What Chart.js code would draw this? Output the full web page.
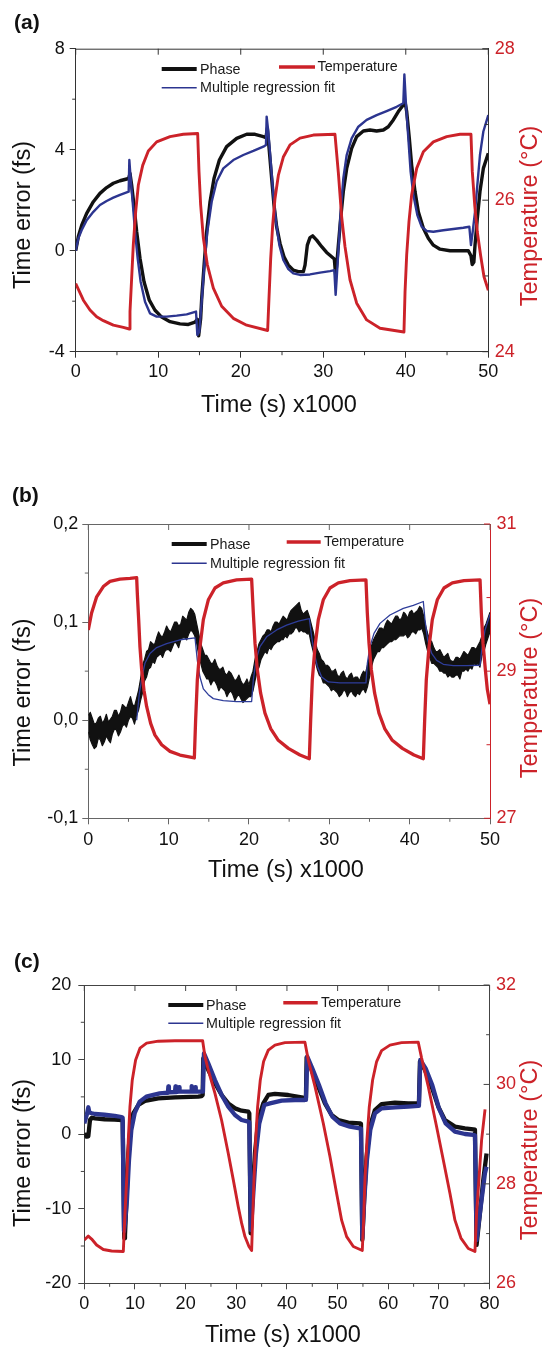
<!DOCTYPE html>
<html><head><meta charset="utf-8">
<script src="https://cdn.jsdelivr.net/npm/chart.js@4.4.1/dist/chart.umd.min.js"></script>
<style>
html,body{margin:0;padding:0;background:#fff;}
body{width:545px;height:1349px;position:relative;overflow:hidden;}
canvas{position:absolute;left:0;}
</style></head><body>
<canvas id="ca" width="545" height="450" style="top:0px"></canvas>
<canvas id="cb" width="545" height="450" style="top:450px"></canvas>
<canvas id="cc" width="545" height="449" style="top:900px"></canvas>
<script>
// ---------------- Panel (a) data ----------------
const aPhase = [[0,0],[0.32,0.56],[0.73,1.01],[1.33,1.48],[2.14,1.94],[2.94,2.27],[3.75,2.5],[4.56,2.67],[5.37,2.77],[6.18,2.84],[6.42,2.86],[6.58,3.06],[6.78,2.6],[7.06,1.81],[7.39,0.75],[7.79,-0.3],[8.28,-1.23],[8.92,-1.96],[9.61,-2.36],[10.42,-2.63],[11.43,-2.81],[12.64,-2.9],[13.65,-2.92],[14.46,-2.83],[14.74,-2.72],[14.9,-3.37],[15.14,-2.7],[15.27,-1.89],[15.59,-0.43],[15.87,0.75],[16.28,1.94],[16.76,2.86],[17.41,3.59],[18.29,4.12],[19.51,4.45],[20.72,4.61],[21.73,4.61],[22.74,4.52],[23.06,4.48],[23.22,4.85],[23.47,3.92],[23.75,2.86],[24.03,1.81],[24.35,0.95],[24.76,0.29],[25.24,-0.24],[25.77,-0.57],[26.37,-0.77],[26.98,-0.83],[27.59,-0.83],[27.79,-0.57],[28.07,0.22],[28.39,0.52],[28.72,0.59],[29.2,0.42],[29.81,0.16],[30.41,-0.07],[31.02,-0.24],[31.34,-0.33],[31.5,-0.96],[31.63,-0.57],[31.83,0.22],[32.11,1.28],[32.43,2.34],[32.84,3.26],[33.44,4.05],[34.05,4.52],[34.86,4.74],[35.66,4.78],[36.47,4.74],[37.28,4.78],[37.88,4.91],[38.49,5.18],[39.1,5.51],[39.7,5.77],[39.91,5.9],[40.11,5.51],[40.43,4.45],[40.71,3.39],[41.12,2.34],[41.52,1.54],[42.13,0.89],[42.73,0.49],[43.34,0.22],[44.15,0.06],[45.36,0],[46.57,0],[47.58,0],[47.9,-0.2],[48.05,-0.55],[48.25,-0.45],[48.39,0.22],[48.67,1.28],[48.99,2.34],[49.4,3.26],[50,3.86]];
const aFit = [[0,0],[0.32,0.49],[0.73,0.82],[1.33,1.21],[2.14,1.54],[2.94,1.81],[3.75,1.97],[4.56,2.1],[5.37,2.21],[6.18,2.31],[6.42,2.34],[6.5,3.59],[6.66,2.86],[6.9,1.94],[7.19,0.75],[7.51,-0.3],[7.87,-1.23],[8.4,-2.02],[9,-2.48],[9.81,-2.61],[11.02,-2.61],[12.24,-2.57],[13.45,-2.52],[14.58,-2.41],[14.74,-3.34],[14.98,-3.21],[15.27,-2],[15.59,-0.57],[15.95,0.75],[16.48,1.94],[17.08,2.74],[17.89,3.26],[19.1,3.59],[20.31,3.79],[21.53,3.95],[22.74,4.12],[23.06,4.19],[23.14,5.31],[23.34,4.72],[23.63,3.53],[23.95,2.21],[24.27,1.15],[24.68,0.22],[25.16,-0.37],[25.77,-0.73],[26.37,-0.9],[27.18,-0.96],[28.39,-0.94],[29.61,-0.87],[30.82,-0.81],[31.34,-0.77],[31.5,-1.75],[31.63,-1.09],[31.83,0],[32.11,1.54],[32.43,2.86],[32.84,3.79],[33.44,4.45],[34.25,4.91],[35.26,5.18],[36.47,5.37],[37.68,5.53],[38.89,5.7],[39.7,5.84],[39.83,6.98],[40.03,5.77],[40.31,4.45],[40.59,3.12],[40.92,2.21],[41.4,1.41],[41.93,0.95],[42.53,0.78],[43.34,0.75],[44.55,0.81],[45.76,0.86],[46.97,0.91],[47.7,0.95],[47.9,0.22],[48.11,0.75],[48.39,1.54],[48.67,2.6],[48.99,3.79],[49.4,4.72],[50,5.37]];
const aTemp = [[0,24.9],[0.93,24.68],[1.73,24.55],[2.54,24.46],[3.35,24.41],[4.56,24.35],[5.77,24.32],[6.5,24.3],[6.58,24.53],[6.78,24.97],[6.98,25.41],[7.27,25.85],[7.59,26.2],[8.12,26.46],[8.8,26.65],[9.81,26.77],[11.43,26.84],[13.04,26.87],[14.78,26.88],[14.94,26.38],[15.14,25.94],[15.47,25.5],[15.95,25.15],[16.68,24.84],[17.69,24.6],[19.1,24.44],[20.72,24.35],[23.26,24.28],[23.42,24.7],[23.63,25.23],[23.87,25.67],[24.15,26.02],[24.56,26.33],[25.16,26.57],[25.97,26.73],[27.18,26.82],[28.8,26.86],[31.42,26.87],[31.83,26.36],[32.23,25.78],[32.63,25.39],[33.24,24.95],[34.05,24.64],[35.26,24.42],[36.88,24.31],[39.78,24.26],[39.91,24.79],[40.11,25.28],[40.39,25.72],[40.71,26.07],[41.32,26.42],[42.13,26.64],[43.34,26.77],[44.96,26.84],[46.57,26.87],[47.9,26.87],[48.06,26.38],[48.35,25.94],[48.67,25.58],[49.07,25.27],[49.48,24.99],[50,24.81]];
const aXMinor = [5,15,25,35,45];
const aXMajor = [0,10,20,30,40,50];
const aYMinor = [6,2,-2];
const aY2Major = [24,26,28];
const aY2Minor = [25,27];

// ---------------- Panel (b) data ----------------
// [time, upper edge, lower edge] of the noisy phase trace
const bPhaseBand = [[0,0.005,-0.012],[0.25,0.008,-0.020],[0.5,0.002,-0.025],[0.75,-0.004,-0.029],[1,-0.003,-0.027],[1.25,0.002,-0.018],[1.5,0.004,-0.020],[1.75,-0.003,-0.026],[2,0.000,-0.022],[2.25,0.006,-0.016],[2.5,-0.002,-0.020],[2.75,0.001,-0.023],[3,0.004,-0.014],[3.25,0.010,-0.009],[3.5,0.010,-0.010],[3.75,0.004,-0.016],[4,0.008,-0.012],[4.25,0.016,-0.006],[4.5,0.014,-0.004],[4.75,0.012,-0.007],[5,0.018,0.000],[5.25,0.024,0.004],[5.5,0.016,0.002],[5.75,0.014,-0.004],[6,0.022,0.005],[6.25,0.030,0.010],[6.5,0.042,0.020],[6.75,0.056,0.028],[7,0.062,0.040],[7.25,0.070,0.044],[7.5,0.072,0.052],[7.75,0.080,0.054],[8,0.078,0.060],[8.25,0.077,0.058],[8.5,0.084,0.064],[8.75,0.090,0.066],[9,0.086,0.068],[9.25,0.085,0.064],[9.5,0.090,0.070],[9.75,0.096,0.072],[10,0.092,0.072],[10.25,0.090,0.070],[10.5,0.095,0.075],[10.75,0.100,0.080],[11,0.100,0.078],[11.25,0.096,0.074],[11.5,0.098,0.082],[11.75,0.106,0.084],[12,0.104,0.084],[12.25,0.102,0.082],[12.5,0.110,0.088],[12.75,0.114,0.092],[13,0.112,0.090],[13.25,0.108,0.086],[13.5,0.098,0.078],[13.75,0.088,0.066],[14,0.078,0.058],[14.25,0.072,0.050],[14.5,0.066,0.046],[14.75,0.066,0.042],[15,0.062,0.042],[15.25,0.058,0.036],[15.5,0.058,0.040],[15.75,0.062,0.040],[16,0.056,0.036],[16.25,0.052,0.030],[16.5,0.052,0.034],[16.75,0.054,0.032],[17,0.048,0.030],[17.25,0.046,0.024],[17.5,0.050,0.028],[17.75,0.048,0.030],[18,0.044,0.026],[18.25,0.040,0.020],[18.5,0.042,0.024],[18.75,0.046,0.026],[19,0.040,0.022],[19.25,0.036,0.018],[19.5,0.038,0.020],[19.75,0.042,0.022],[20,0.036,0.024],[20.25,0.044,0.024],[20.5,0.050,0.030],[20.75,0.062,0.040],[21,0.070,0.050],[21.25,0.078,0.054],[21.5,0.082,0.062],[21.75,0.086,0.066],[22,0.088,0.070],[22.25,0.092,0.068],[22.5,0.092,0.074],[22.75,0.090,0.072],[23,0.096,0.076],[23.25,0.100,0.078],[23.5,0.100,0.080],[23.75,0.098,0.080],[24,0.102,0.082],[24.25,0.106,0.082],[24.5,0.104,0.086],[24.75,0.102,0.084],[25,0.108,0.088],[25.25,0.112,0.088],[25.5,0.114,0.090],[25.75,0.116,0.094],[26,0.118,0.094],[26.25,0.120,0.090],[26.5,0.112,0.092],[26.75,0.108,0.090],[27,0.110,0.090],[27.25,0.112,0.088],[27.5,0.106,0.088],[27.75,0.098,0.078],[28,0.090,0.070],[28.25,0.080,0.060],[28.5,0.072,0.052],[28.75,0.068,0.046],[29,0.062,0.044],[29.25,0.060,0.038],[29.5,0.056,0.038],[29.75,0.056,0.036],[30,0.054,0.034],[30.25,0.050,0.030],[30.5,0.050,0.032],[30.75,0.052,0.030],[31,0.046,0.028],[31.25,0.044,0.024],[31.5,0.048,0.026],[31.75,0.050,0.030],[32,0.044,0.030],[32.25,0.042,0.024],[32.5,0.046,0.028],[32.75,0.048,0.030],[33,0.042,0.026],[33.25,0.044,0.024],[33.5,0.044,0.028],[33.75,0.040,0.026],[34,0.046,0.030],[34.25,0.050,0.032],[34.5,0.048,0.028],[34.75,0.056,0.034],[35,0.066,0.044],[35.25,0.076,0.054],[35.5,0.082,0.062],[35.75,0.086,0.066],[36,0.090,0.070],[36.25,0.094,0.070],[36.5,0.094,0.074],[36.75,0.092,0.074],[37,0.098,0.076],[37.25,0.102,0.078],[37.5,0.100,0.080],[37.75,0.098,0.080],[38,0.102,0.082],[38.25,0.106,0.082],[38.5,0.106,0.084],[38.75,0.102,0.086],[39,0.104,0.086],[39.25,0.110,0.086],[39.5,0.108,0.088],[39.75,0.104,0.084],[40,0.110,0.086],[40.25,0.112,0.090],[40.5,0.108,0.090],[40.75,0.110,0.088],[41,0.112,0.092],[41.25,0.116,0.092],[41.5,0.114,0.094],[41.75,0.106,0.088],[42,0.096,0.078],[42.25,0.088,0.070],[42.5,0.082,0.064],[42.75,0.080,0.058],[43,0.074,0.058],[43.25,0.070,0.056],[43.5,0.070,0.054],[43.75,0.072,0.050],[44,0.068,0.050],[44.25,0.064,0.048],[44.5,0.066,0.048],[44.75,0.068,0.044],[45,0.062,0.046],[45.25,0.060,0.044],[45.5,0.060,0.044],[45.75,0.064,0.046],[46,0.064,0.046],[46.25,0.062,0.042],[46.5,0.066,0.050],[46.75,0.070,0.050],[47,0.068,0.052],[47.25,0.066,0.050],[47.5,0.070,0.054],[47.75,0.074,0.052],[48,0.074,0.058],[48.25,0.072,0.056],[48.5,0.076,0.058],[48.75,0.080,0.054],[49,0.086,0.066],[49.25,0.094,0.070],[49.5,0.098,0.078],[49.75,0.104,0.084],[50,0.110,0.090]];
const bFit = [[6.02,0],[6.35,0.027],[6.68,0.044],[7.05,0.058],[7.68,0.068],[8.51,0.074],[9.75,0.078],[11.41,0.082],[13.28,0.084],[13.57,0.061],[13.9,0.044],[14.32,0.032],[14.94,0.026],[15.56,0.022],[16.8,0.02],[18.46,0.019],[20.33,0.019],[20.54,0.041],[20.87,0.061],[21.37,0.075],[22.2,0.085],[23.44,0.092],[24.69,0.097],[26.14,0.101],[27.51,0.1035],[27.8,0.085],[28.13,0.068],[28.51,0.055],[29.05,0.044],[29.88,0.039],[31.33,0.038],[33.4,0.038],[34.56,0.038],[34.73,0.058],[35.06,0.075],[35.56,0.0885],[36.31,0.0987],[37.55,0.1072],[39.21,0.114],[40.46,0.117],[41.7,0.121],[41.91,0.102],[42.24,0.082],[42.74,0.068],[43.36,0.061],[44.19,0.057],[45.44,0.0556],[47.1,0.0556],[48.76,0.056],[48.95,0.07],[49.38,0.092],[50,0.108]];
const bTemp = [[0,29.56],[0.41,29.79],[1.04,30.01],[1.87,30.15],[2.7,30.22],[3.94,30.25],[5.19,30.26],[6.02,30.27],[6.1,30.06],[6.27,29.7],[6.43,29.33],[6.64,29.02],[6.93,28.74],[7.26,28.52],[7.76,28.29],[8.3,28.13],[9.13,28],[10.17,27.91],[11.41,27.86],[13.2,27.82],[13.36,28.34],[13.57,28.88],[13.9,29.33],[14.32,29.7],[14.94,29.97],[15.77,30.13],[16.8,30.2],[18.46,30.24],[20.33,30.25],[20.54,29.79],[20.75,29.38],[21.04,29.02],[21.45,28.7],[21.99,28.43],[22.7,28.22],[23.65,28.06],[24.9,27.95],[26.35,27.86],[27.51,27.81],[27.68,28.34],[27.88,28.88],[28.22,29.33],[28.63,29.7],[29.25,29.97],[30.08,30.13],[31.12,30.2],[32.57,30.23],[34.56,30.24],[34.73,29.79],[34.94,29.38],[35.23,29.02],[35.64,28.7],[36.18,28.43],[36.89,28.22],[37.84,28.06],[39.09,27.95],[40.54,27.86],[41.7,27.81],[41.87,28.34],[42.07,28.88],[42.41,29.33],[42.82,29.7],[43.44,29.97],[44.27,30.13],[45.31,30.2],[46.76,30.23],[48.76,30.24],[48.92,29.79],[49.13,29.38],[49.42,29.02],[49.67,28.75],[50,28.55]];
const bXMinor = [5,15,25,35,45];
const bXMajor = [0,10,20,30,40,50];
const bYMinor = [0.15,0.05,-0.05];
const bY2Major = [27,29,31];
const bY2Minor = [28,30];

// ---------------- Panel (c) data ----------------
const cPhase = [[0,0.1],[0.46,-0.34],[0.79,-0.3],[1.12,1.9],[1.5,2.2],[2.11,2.12],[4,2],[6,1.95],[7.37,1.9],[7.57,1.8],[7.89,-13.97],[8.03,-13.5],[8.36,-8.38],[8.68,-2.57],[9.14,1.01],[9.67,2.79],[10.66,3.91],[11.97,4.45],[14.61,4.8],[17.89,4.94],[22.5,5.03],[23.16,5.1],[23.36,5.25],[23.49,10.17],[24.47,8.6],[25.79,6.82],[27.11,5.25],[28.42,4.13],[29.74,3.46],[31.05,3.15],[32.37,3.02],[32.57,2.8],[32.83,-13.3],[33.22,-7.93],[33.68,-2.57],[34.34,1.9],[35.33,4.13],[36.32,5.25],[37.63,5.39],[40.26,5.25],[42.89,4.94],[43.55,4.8],[43.75,4.9],[43.88,10.3],[44.87,8.6],[46.18,6.37],[47.5,4.13],[48.82,2.57],[50.13,1.9],[52.11,1.54],[54.41,1.45],[54.61,1.4],[54.87,-14.19],[55.26,-8.38],[55.72,-3.02],[56.38,1.01],[57.37,3.24],[58.68,4.04],[61.32,4.22],[63.95,4.13],[65.92,4.13],[66.05,4.2],[66.25,9.72],[67.24,8.6],[68.55,6.37],[69.87,3.69],[71.18,1.9],[73.16,1.01],[75.13,0.78],[76.78,0.65],[77.11,0.6],[77.43,-14.86],[78.09,-10.61],[78.75,-6.15],[79.4,-2.6]];
const cFit = [[0,1.45],[0.5,2.6],[0.8,3.6],[1,2.9],[1.5,2.8],[2.11,2.7],[4,2.6],[6,2.45],[7.37,2.3],[7.57,2.2],[7.83,-13],[8.03,-12],[8.42,-8.8],[8.82,-3.5],[9.28,0.56],[9.94,2.8],[10.93,4.36],[12.24,5.03],[14.87,5.47],[16.5,5.55],[16.6,6.4],[16.7,5.6],[17.9,5.65],[18,6.4],[18.1,5.65],[18.6,5.7],[18.7,6.3],[18.8,5.7],[21.1,5.7],[21.2,6.45],[21.3,5.7],[21.8,5.7],[21.9,6.3],[22,5.7],[23.42,5.7],[23.62,10.84],[24.47,9.5],[25.79,7.26],[27.11,5.25],[28.42,3.69],[29.74,2.57],[31.05,1.9],[32.37,1.68],[32.57,1.6],[32.89,-12.85],[33.36,-7.93],[33.88,-2.57],[34.54,1.45],[35.53,3.91],[36.64,4.13],[38.95,4.49],[41.58,4.58],[43.55,4.58],[43.75,4.6],[44.01,10.39],[45,8.83],[46.32,6.59],[47.63,4.13],[48.95,2.35],[50.46,1.45],[52.43,1.01],[54.41,0.78],[54.61,0.75],[54.87,-13.97],[55.26,-8.83],[55.79,-3.46],[56.45,0.56],[57.37,2.79],[58.68,3.46],[61.32,3.6],[63.95,3.69],[65.92,3.78],[66.05,3.8],[66.32,9.94],[67.37,8.83],[68.68,6.59],[70,3.46],[71.32,1.45],[73.16,0.34],[75.13,0.02],[76.78,-0.11],[77.11,-0.15],[77.43,-14.2],[78.09,-10.6],[79.08,-5.25],[79.4,-4.36]];
const cTemp = [[0,26.87],[0.79,26.95],[1.45,26.89],[2.43,26.77],[3.75,26.68],[5.39,26.65],[7.7,26.64],[8.03,27.41],[8.36,28.08],[8.68,28.88],[9.01,29.55],[9.47,30.09],[10.13,30.49],[10.99,30.73],[12.3,30.83],[14.61,30.87],[17.89,30.88],[23.36,30.88],[23.82,30.56],[24.47,30.29],[25.79,29.82],[27.1,29.28],[28.42,28.61],[29.41,28.08],[30.39,27.54],[31.05,27.21],[31.71,26.94],[32.5,26.74],[33.03,26.66],[33.22,27.27],[33.49,28.08],[33.82,28.88],[34.21,29.55],[34.74,30.09],[35.39,30.46],[36.32,30.69],[37.63,30.79],[39.61,30.84],[43.55,30.85],[44.21,30.49],[45.53,29.96],[47.17,29.22],[48.49,28.55],[49.8,27.81],[50.79,27.27],[51.78,26.94],[53.1,26.74],[54.87,26.66],[55.13,27.27],[55.39,28.08],[55.79,28.88],[56.25,29.55],[56.91,30.09],[57.7,30.46],[58.68,30.68],[60.33,30.79],[62.63,30.84],[65.92,30.85],[66.58,30.53],[67.89,29.96],[69.54,29.15],[70.86,28.48],[72.17,27.81],[73.16,27.27],[74.34,26.91],[75.79,26.7],[77.11,26.64],[77.43,27.41],[77.89,28.08],[78.42,28.88],[79.1,29.5]];
const cXMinor = [5,15,25,35,45,55,65,75];
const cXMajor = [0,10,20,30,40,50,60,70,80];
const cYMinor = [15,5,-5,-15];
const cY2Major = [26,28,30,32];
const cY2Minor = [27,29,31];

// ---------------- rendering ----------------
const FONT = "'Liberation Sans', Arial, Helvetica, sans-serif";
const RED = '#cc2229';
const BLUE = '#2c3590';
const BLACK = '#111111';
const xy = arr => arr.map(p => ({x: p[0], y: p[1]}));
function seg(ctx, x1, y1, x2, y2){ ctx.beginPath(); ctx.moveTo(x1, y1); ctx.lineTo(x2, y2); ctx.stroke(); }

function makePanel(P){
  const W = 545;
  const canvas = document.getElementById(P.id);
  const H = canvas.height;
  const tickFont = {family: FONT, size: 18};
  const deco = {
    id: 'deco_' + P.id,
    afterDraw(chart){
      const ctx = chart.ctx;
      const {left, right, top, bottom} = chart.chartArea;
      const xs = chart.scales.x, ys = chart.scales.y, y2 = chart.scales.y2;
      ctx.save();
      ctx.lineWidth = 1;
      ctx.strokeStyle = P.axisColor;
      seg(ctx, left, top + 0.5, right, top + 0.5);
      P.xMajor.forEach(v => { const p = xs.getPixelForValue(v); seg(ctx, p, top, p, top + 6); });
      P.xMinor.forEach(v => { const p = xs.getPixelForValue(v); seg(ctx, p, bottom, p, bottom + 3.5); });
      P.yMinor.forEach(v => { const p = ys.getPixelForValue(v); seg(ctx, left - 3.5, p, left, p); });
      ctx.strokeStyle = P.rightColor;
      P.y2Major.forEach(v => { const p = y2.getPixelForValue(v); seg(ctx, right - 6, p, right, p); });
      P.y2Minor.forEach(v => { const p = y2.getPixelForValue(v); seg(ctx, right - 3.5, p, right, p); });
      // legend
      const L = P.legend;
      ctx.lineCap = 'butt';
      ctx.strokeStyle = BLACK; ctx.lineWidth = 4; seg(ctx, L.sx1, L.phaseY, L.sx2, L.phaseY);
      ctx.strokeStyle = BLUE; ctx.lineWidth = 1.6; seg(ctx, L.sx1, L.fitY, L.sx2, L.fitY);
      ctx.strokeStyle = RED; ctx.lineWidth = 3.4; seg(ctx, L.rx1, L.tempY, L.rx2, L.tempY);
      ctx.fillStyle = '#1a1a1a';
      ctx.font = '14.3px ' + FONT;
      ctx.textAlign = 'left'; ctx.textBaseline = 'middle';
      ctx.fillText('Phase', L.tx, L.phaseY + 1);
      ctx.fillText('Multiple regression fit', L.tx, L.fitY + 0.5);
      ctx.fillText('Temperature', L.rtx, L.tempY + 0.5);
      // axis titles
      ctx.font = '23.5px ' + FONT;
      ctx.textAlign = 'center';
      ctx.fillStyle = '#111';
      ctx.fillText('Time (s) x1000', P.xTitle[0], P.xTitle[1]);
      ctx.save(); ctx.translate(P.yTitle[0], P.yTitle[1]); ctx.rotate(-Math.PI / 2);
      ctx.fillText('Time error (fs)', 0, 0); ctx.restore();
      ctx.fillStyle = RED;
      ctx.save(); ctx.translate(P.y2Title[0], P.y2Title[1]); ctx.rotate(-Math.PI / 2);
      ctx.fillText('Temperature (°C)', 0, 0); ctx.restore();
      // panel label
      ctx.fillStyle = '#111';
      ctx.font = 'bold 21px ' + FONT;
      ctx.textAlign = 'left';
      ctx.fillText(P.label, P.labelPos[0], P.labelPos[1]);
      ctx.restore();
    }
  };
  return new Chart(canvas, {
    type: 'line',
    data: {datasets: P.datasets},
    options: {
      responsive: false, animation: false, events: [],
      layout: {padding: {top: P.box.t, left: 0, right: 0, bottom: 0}},
      plugins: {legend: {display: false}, tooltip: {enabled: false}},
      elements: {point: {radius: 0}, line: {tension: 0, borderJoinStyle: 'round', borderCapStyle: 'butt'}},
      scales: {
        x: {type: 'linear', position: 'bottom', min: P.xRange[0], max: P.xRange[1],
          ticks: {stepSize: P.xStep, font: tickFont, color: '#111', padding: P.xPad, maxRotation: 0, autoSkip: false, callback: v => String(v)},
          grid: {display: true, drawOnChartArea: false, drawTicks: true, tickLength: 6, color: P.axisColor, lineWidth: 1},
          border: {display: true, color: P.axisColor, width: 1},
          afterFit: s => { s.height = H - P.box.b; }},
        y: {type: 'linear', position: 'left', min: P.yRange[0], max: P.yRange[1],
          ticks: {stepSize: P.yStep, font: tickFont, color: '#111', padding: P.yPad, callback: P.yFmt},
          grid: {display: true, drawOnChartArea: false, drawTicks: true, tickLength: 6, color: P.axisColor, lineWidth: 1},
          border: {display: true, color: P.axisColor, width: 1},
          afterFit: s => { s.width = P.box.l; }},
        y2: {type: 'linear', position: 'right', min: P.y2Range[0], max: P.y2Range[1],
          ticks: {stepSize: P.y2Step, font: tickFont, color: RED, padding: 6.5, callback: v => String(v)},
          grid: {display: true, drawOnChartArea: false, drawTicks: false, color: P.rightColor},
          border: {display: true, color: P.rightColor, width: 1},
          afterFit: s => { s.width = W - P.box.r; }}
      }
    },
    plugins: [deco]
  });
}

makePanel({
  id: 'ca', box: {l: 75.7, t: 48.7, r: 488.3, b: 351.7},
  xRange: [0, 50], xStep: 10, yRange: [-4, 8], yStep: 4, y2Range: [24, 28], y2Step: 2,
  xPad: 4, yPad: 5, yFmt: v => String(v),
  axisColor: '#333', rightColor: '#333',
  xMajor: aXMajor, xMinor: aXMinor, yMinor: aYMinor, y2Major: aY2Major, y2Minor: aY2Minor,
  legend: {sx1: 161.7, sx2: 196.7, tx: 200, phaseY: 69, fitY: 87.7, rx1: 279, rx2: 315, rtx: 317.5, tempY: 67},
  xTitle: [279, 406], yTitle: [24, 215], y2Title: [531, 216], label: '(a)', labelPos: [14, 23],
  datasets: [
    {data: xy(aPhase), borderColor: BLACK, borderWidth: 3.4, yAxisID: 'y', order: 3},
    {data: xy(aFit), borderColor: BLUE, borderWidth: 2.4, yAxisID: 'y', order: 2},
    {data: xy(aTemp), borderColor: RED, borderWidth: 2.9, yAxisID: 'y2', order: 1}
  ]
});

makePanel({
  id: 'cb', box: {l: 88.3, t: 74, r: 490, b: 368.3},
  xRange: [0, 50], xStep: 10, yRange: [-0.1, 0.2], yStep: 0.1, y2Range: [27, 31], y2Step: 2,
  xPad: 4.5, yPad: 4, yFmt: v => Number(v).toFixed(1).replace('.', ','),
  axisColor: '#666', rightColor: RED,
  xMajor: bXMajor, xMinor: bXMinor, yMinor: bYMinor, y2Major: bY2Major, y2Minor: bY2Minor,
  legend: {sx1: 171.7, sx2: 206.7, tx: 210, phaseY: 94, fitY: 113.3, rx1: 286.7, rx2: 320.7, rtx: 324, tempY: 92},
  xTitle: [286, 421], yTitle: [23.5, 242.5], y2Title: [531, 238], label: '(b)', labelPos: [12, 46],
  datasets: [
    {data: bPhaseBand.map(p => ({x: p[0], y: p[1]})), borderColor: BLACK, borderWidth: 1.2, yAxisID: 'y', order: 3, fill: false},
    {data: bPhaseBand.map(p => ({x: p[0], y: p[2]})), borderColor: BLACK, borderWidth: 1.2, yAxisID: 'y', order: 3, fill: '-1', backgroundColor: BLACK},
    {data: xy(bFit), borderColor: '#2e3d9a', borderWidth: 1.3, yAxisID: 'y', order: 2},
    {data: xy(bTemp), borderColor: RED, borderWidth: 3.3, yAxisID: 'y2', order: 1}
  ]
});

makePanel({
  id: 'cc', box: {l: 84.3, t: 85, r: 489.6, b: 383.3},
  xRange: [0, 80], xStep: 10, yRange: [-20, 20], yStep: 10, y2Range: [26, 32], y2Step: 2,
  xPad: 3.5, yPad: 7, yFmt: v => String(v),
  axisColor: '#444', rightColor: '#444',
  xMajor: cXMajor, xMinor: cXMinor, yMinor: cYMinor, y2Major: cY2Major, y2Minor: cY2Minor,
  legend: {sx1: 168.3, sx2: 203.3, tx: 206, phaseY: 105, fitY: 123.3, rx1: 283.3, rx2: 317.7, rtx: 321, tempY: 102.7},
  xTitle: [283, 436], yTitle: [23.5, 253], y2Title: [531, 250], label: '(c)', labelPos: [14, 62],
  datasets: [
    {data: xy(cPhase), borderColor: BLACK, borderWidth: 4.3, yAxisID: 'y', order: 3},
    {data: xy(cFit), borderColor: BLUE, borderWidth: 4.3, yAxisID: 'y', order: 2},
    {data: xy(cTemp), borderColor: RED, borderWidth: 2.9, yAxisID: 'y2', order: 1}
  ]
});
</script></body></html>
